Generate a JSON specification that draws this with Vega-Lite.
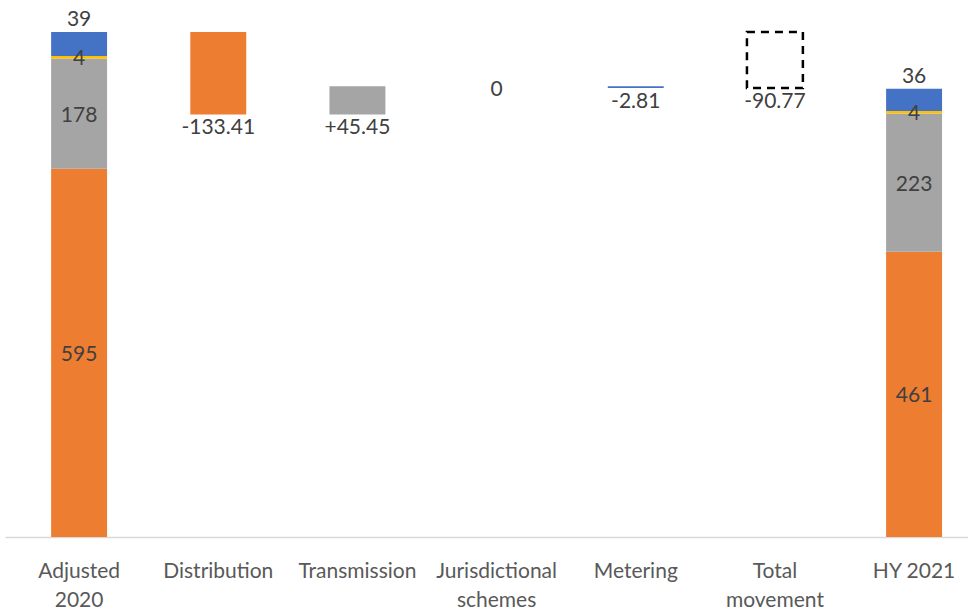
{
  "$schema": "https://vega.github.io/schema/vega-lite/v6.json",
  "width": 963,
  "height": 537,
  "autosize": "none",
  "padding": {"left": 5, "top": 0, "right": 0, "bottom": 73},
  "background": "white",
  "config": {"view": {"stroke": null}, "font": "Lato"},
  "datasets": {
    "bars": [
      {"cat": "Adjusted 2020", "series": "Orange", "lo": 0, "hi": 595},
      {"cat": "Adjusted 2020", "series": "Grey", "lo": 595, "hi": 773},
      {"cat": "Adjusted 2020", "series": "Yellow", "lo": 773, "hi": 777},
      {"cat": "Adjusted 2020", "series": "Blue", "lo": 777, "hi": 816},
      {"cat": "Distribution", "series": "Orange", "lo": 682.59, "hi": 816},
      {"cat": "Transmission", "series": "Grey", "lo": 682.59, "hi": 728.04},
      {"cat": "Metering", "series": "Blue", "lo": 725.23, "hi": 728.04},
      {"cat": "Total movement", "series": "Total", "lo": 725.23, "hi": 816},
      {"cat": "HY 2021", "series": "Orange", "lo": 0, "hi": 461},
      {"cat": "HY 2021", "series": "Grey", "lo": 461, "hi": 684},
      {"cat": "HY 2021", "series": "Yellow", "lo": 684, "hi": 688},
      {"cat": "HY 2021", "series": "Blue", "lo": 688, "hi": 724}
    ],
    "labels": [
      {"cat": "Adjusted 2020", "pos": 816, "label": "39", "place": "above"},
      {"cat": "Adjusted 2020", "pos": 775, "label": "4", "place": "mid"},
      {"cat": "Adjusted 2020", "pos": 684, "label": "178", "place": "mid"},
      {"cat": "Adjusted 2020", "pos": 297.5, "label": "595", "place": "mid"},
      {"cat": "Distribution", "pos": 682.59, "label": "-133.41", "place": "below"},
      {"cat": "Transmission", "pos": 682.59, "label": "+45.45", "place": "below"},
      {"cat": "Jurisdictional schemes", "pos": 726, "label": "0", "place": "mid"},
      {"cat": "Metering", "pos": 725.23, "label": "-2.81", "place": "below"},
      {"cat": "Total movement", "pos": 725.23, "label": "-90.77", "place": "below"},
      {"cat": "HY 2021", "pos": 724, "label": "36", "place": "above"},
      {"cat": "HY 2021", "pos": 686, "label": "4", "place": "mid"},
      {"cat": "HY 2021", "pos": 572.5, "label": "223", "place": "mid"},
      {"cat": "HY 2021", "pos": 230.5, "label": "461", "place": "mid"}
    ]
  },
  "encoding": {
    "x": {
      "field": "cat",
      "type": "nominal",
      "sort": null,
      "scale": {
        "domain": ["Adjusted 2020", "Distribution", "Transmission", "Jurisdictional schemes", "Metering", "Total movement", "HY 2021"],
        "paddingInner": 0.598,
        "paddingOuter": 0.259,
        "align": 0.64
      },
      "axis": {
        "title": null,
        "labelAngle": 0,
        "ticks": false,
        "domainColor": "#d9d9d9",
        "domainWidth": 1.5,
        "labelColor": "#595959",
        "labelFontSize": 21,
        "labelFont": "Lato",
        "labelPadding": 23,
        "labelLineHeight": 29,
        "labelLimit": 200,
        "labelExpr": "datum.label == 'Adjusted 2020' ? ['Adjusted', '2020'] : datum.label == 'Jurisdictional schemes' ? ['Jurisdictional', 'schemes'] : datum.label == 'Total movement' ? ['Total', 'movement'] : datum.label"
      }
    }
  },
  "layer": [
    {
      "data": {"name": "bars"},
      "transform": [{"filter": "datum.series != 'Total'"}],
      "mark": {"type": "bar"},
      "encoding": {
        "y": {"field": "lo", "type": "quantitative", "scale": {"domain": [0, 867.5], "nice": false}, "axis": null},
        "y2": {"field": "hi"},
        "color": {
          "field": "series",
          "type": "nominal",
          "scale": {"domain": ["Orange", "Grey", "Yellow", "Blue"], "range": ["#ED7D31", "#A5A5A5", "#FFC000", "#4472C4"]},
          "legend": null
        }
      }
    },
    {
      "data": {"name": "bars"},
      "transform": [{"filter": "datum.series == 'Total'"}],
      "mark": {"type": "bar", "fill": null, "fillOpacity": 0, "stroke": "#000000", "strokeWidth": 2.5, "strokeDash": [8, 6]},
      "encoding": {
        "y": {"field": "lo", "type": "quantitative"},
        "y2": {"field": "hi"}
      }
    },
    {
      "data": {"name": "labels"},
      "transform": [{"filter": "datum.place == 'above'"}],
      "mark": {"type": "text", "baseline": "bottom", "dy": -2, "fontSize": 21, "color": "#404040"},
      "encoding": {"y": {"field": "pos", "type": "quantitative"}, "text": {"field": "label"}}
    },
    {
      "data": {"name": "labels"},
      "transform": [{"filter": "datum.place == 'below'"}],
      "mark": {"type": "text", "baseline": "top", "dy": 3, "fontSize": 21, "color": "#404040"},
      "encoding": {"y": {"field": "pos", "type": "quantitative"}, "text": {"field": "label"}}
    },
    {
      "data": {"name": "labels"},
      "transform": [{"filter": "datum.place == 'mid'"}],
      "mark": {"type": "text", "baseline": "middle", "dy": 2, "fontSize": 21, "color": "#404040"},
      "encoding": {"y": {"field": "pos", "type": "quantitative"}, "text": {"field": "label"}}
    }
  ]
}
